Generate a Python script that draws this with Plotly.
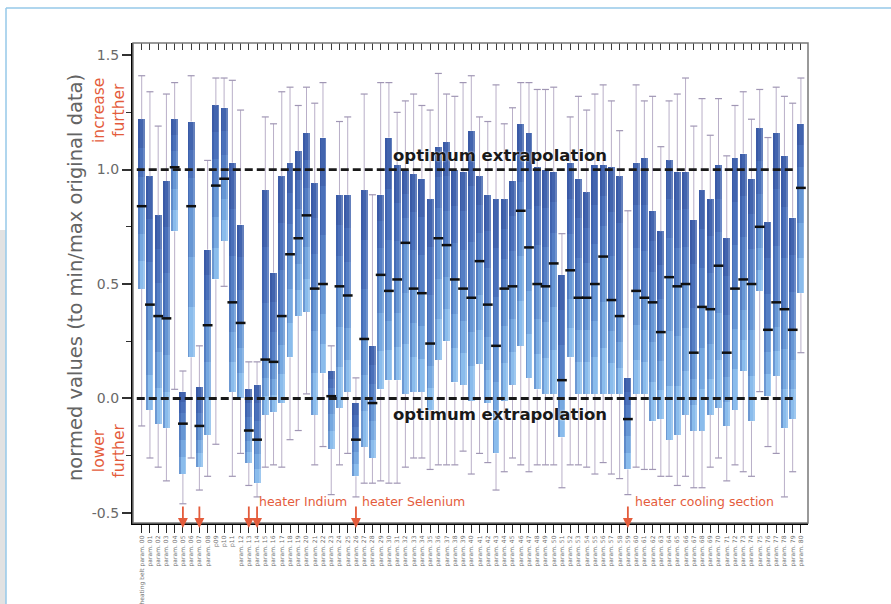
import plotly.graph_objects as go

# ---- data ----
upper = [1.41, 1.34, 1.19, 1.33, 1.38, 0.12, 1.41, 0.23, 1.04, 1.40,
         1.40, 1.39, 1.26, 0.16, 0.16, 1.23, 1.20, 1.34, 1.36, 1.28,
         1.36, 1.29, 1.38, 0.23, 1.21, 1.23, 0.09, 1.33, 0.89, 1.38,
         1.38, 1.25, 1.30, 1.33, 1.28, 1.26, 1.42, 1.33, 1.32, 1.38,
         1.41, 1.23, 1.21, 1.37, 1.20, 1.27, 1.38, 1.38, 1.35, 1.35,
         1.36, 0.72, 1.23, 1.32, 1.26, 1.33, 1.37, 1.30, 1.17, 0.82,
         1.37, 1.30, 1.32, 1.10, 1.30, 1.33, 1.40, 1.19, 1.31, 1.15,
         1.31, 1.06, 1.28, 1.34, 1.22, 1.35, 1.14, 1.36, 1.32, 1.29, 1.40]
q3 = [1.22, 0.97, 0.80, 0.95, 1.22, 0.03, 1.21, 0.05, 0.65, 1.28,
      1.27, 1.03, 0.76, 0.04, 0.06, 0.91, 0.55, 0.97, 1.03, 1.08,
      1.16, 0.94, 1.14, 0.12, 0.89, 0.89, -0.02, 0.91, 0.23, 0.89,
      1.14, 1.02, 1.00, 0.98, 0.96, 0.87, 1.10, 1.12, 1.00, 0.99,
      1.17, 0.97, 0.89, 0.87, 0.87, 0.95, 1.20, 1.16, 1.01, 1.00,
      0.99, 0.54, 1.03, 0.96, 0.90, 1.02, 1.02, 1.01, 0.97, 0.09,
      1.03, 1.05, 0.82, 0.73, 1.04, 0.99, 0.99, 0.78, 0.91, 0.87,
      1.02, 0.70, 1.05, 1.07, 0.96, 1.18, 0.77, 1.16, 1.06, 0.79, 1.20]
median = [0.84, 0.41, 0.36, 0.35, 1.01, -0.11, 0.84, -0.12, 0.32, 0.93,
          0.96, 0.42, 0.33, -0.14, -0.18, 0.17, 0.16, 0.36, 0.63, 0.70,
          0.80, 0.48, 0.50, 0.01, 0.49, 0.45, -0.18, 0.26, -0.02, 0.54,
          0.47, 0.52, 0.68, 0.48, 0.46, 0.24, 0.70, 0.67, 0.52, 0.48,
          0.44, 0.60, 0.41, 0.23, 0.48, 0.49, 0.82, 0.66, 0.50, 0.49,
          0.59, 0.08, 0.56, 0.44, 0.44, 0.50, 0.62, 0.43, 0.36, -0.09,
          0.47, 0.44, 0.42, 0.29, 0.53, 0.49, 0.50, 0.20, 0.40, 0.39,
          0.58, 0.20, 0.48, 0.52, 0.50, 0.75, 0.30, 0.42, 0.39, 0.30, 0.92]
q1 = [0.48, -0.05, -0.11, -0.13, 0.73, -0.33, 0.18, -0.30, -0.16, 0.52,
      0.69, 0.03, 0.00, -0.28, -0.37, -0.07, -0.06, -0.02, 0.18, 0.36,
      0.38, -0.07, 0.11, -0.22, -0.04, 0.03, -0.34, -0.21, -0.26, 0.04,
      0.08, 0.08, 0.02, 0.03, 0.03, -0.05, 0.17, 0.25, 0.07, 0.06,
      -0.01, 0.15, -0.02, -0.24, -0.01, 0.06, 0.23, 0.09, 0.04, 0.02,
      0.02, -0.17, 0.18, 0.02, 0.02, 0.02, 0.02, 0.02, 0.02, -0.31,
      0.02, 0.02, -0.10, -0.09, -0.18, -0.16, -0.07, -0.14, -0.14, -0.07,
      -0.04, -0.12, -0.05, 0.12, -0.10, 0.47, 0.01, 0.10, -0.13, -0.09, 0.46]
lower = [-0.12, -0.26, -0.30, -0.36, 0.04, -0.46, -0.26, -0.40, -0.34, -0.20,
         0.49, -0.34, -0.24, -0.38, -0.43, -0.30, -0.29, -0.30, -0.18, -0.14,
         0.02, -0.29, -0.21, -0.42, -0.29, -0.24, -0.43, -0.37, -0.37, -0.36,
         -0.37, -0.37, -0.30, -0.26, -0.26, -0.31, -0.29, -0.29, -0.29, -0.23,
         -0.33, -0.24, -0.28, -0.40, -0.32, -0.26, -0.29, -0.32, -0.29, -0.29,
         -0.29, -0.39, -0.29, -0.29, -0.30, -0.33, -0.28, -0.33, -0.35, -0.42,
         -0.30, -0.31, -0.31, -0.34, -0.34, -0.38, -0.34, -0.39, -0.39, -0.30,
         -0.26, -0.36, -0.29, -0.32, -0.34, 0.03, -0.21, -0.24, -0.43, -0.32, 0.20]

labels = ["heating belt param. 00"] + [f"param. {i:02d}" for i in range(1, 81)]
labels[9] = "p09"
labels[10] = "p10"
labels[11] = "p11"

arrow_boxes = [5, 7, 13, 14, 26, 59]
section_labels = ["heater Indium", "heater Selenium", "heater cooling section"]
section_pos = [19.6, 33.0, 68.3]
reference_levels = [1.0, 0.0]

n = len(median)
idx = list(range(n))

fig = go.Figure()

# box bodies: 3 tones above the median, 3 below (vertical gradient)
def frac(a, b, t):
    return [x + (y - x) * t for x, y in zip(a, b)]

levels = [q3, frac(q3, median, 1 / 3), frac(q3, median, 2 / 3), median,
          frac(median, q1, 1 / 3), frac(median, q1, 2 / 3), q1]
tones = ["rgb(66,100,174)", "rgb(74,112,186)", "rgb(84,126,196)",
         "rgb(102,150,212)", "rgb(118,168,224)", "rgb(138,188,236)"]
for k, col in enumerate(tones):
    hi, lo = levels[k], levels[k + 1]
    fig.add_trace(go.Bar(x=idx, base=lo, y=[h - l for h, l in zip(hi, lo)],
                         width=0.84, marker=dict(color=col, line=dict(width=0)),
                         hoverinfo="skip", showlegend=False))
# darker left edge of each box (horizontal shading)
fig.add_trace(go.Bar(x=idx, base=q1, y=[h - l for h, l in zip(q3, q1)],
                     width=0.22, offset=-0.42,
                     marker=dict(color="rgba(40,70,150,0.30)", line=dict(width=0)),
                     hoverinfo="skip", showlegend=False))
# lighter right edge
fig.add_trace(go.Bar(x=idx, base=q1, y=[h - l for h, l in zip(q3, q1)],
                     width=0.22, offset=0.20,
                     marker=dict(color="rgba(255,255,255,0.18)", line=dict(width=0)),
                     hoverinfo="skip", showlegend=False))

# whiskers
wx, wy = [], []
for i in idx:
    wx += [i, i, None, i, i, None]
    wy += [q3[i], upper[i], None, q1[i], lower[i], None]
wcol = "rgb(185,175,200)"
fig.add_trace(go.Scatter(x=wx, y=wy, mode="lines", line=dict(color=wcol, width=1),
                         hoverinfo="skip", showlegend=False))
fig.add_trace(go.Scatter(x=idx + idx, y=upper + lower, mode="markers",
                         marker=dict(symbol="line-ew", size=5,
                                     line=dict(color="rgb(160,150,180)", width=1.2)),
                         hoverinfo="skip", showlegend=False))
# medians
fig.add_trace(go.Scatter(x=idx, y=median, mode="markers",
                         marker=dict(symbol="line-ew", size=7,
                                     line=dict(color="rgb(15,15,15)", width=2.5)),
                         hoverinfo="skip", showlegend=False))

# invisible trace that carries the top tick axis
fig.add_trace(go.Scatter(x=[0], y=[-5], xaxis="x2", mode="markers",
                         marker=dict(size=1, opacity=0), showlegend=False, hoverinfo="skip"))

# dashed reference lines
for lvl in reference_levels:
    fig.add_shape(type="line", xref="x", yref="y", x0=-0.6, x1=79.4, y0=lvl, y1=lvl,
                  line=dict(color="rgb(25,25,25)", width=2.8, dash="8px,4px"), layer="above")

# frame (top/right grey)
fig.add_shape(type="rect", xref="paper", yref="paper", x0=0, x1=1, y0=0, y1=1,
              line=dict(color="rgb(120,120,120)", width=1.5), layer="above")

# outer page decorations
def px_x(p):
    return (p - 133) / 675.0

def px_y(p):
    return (523 - p) / 480.0

fig.add_shape(type="rect", xref="paper", yref="paper", x0=px_x(0), x1=px_x(6),
              y0=px_y(604), y1=px_y(230), fillcolor="rgb(226,226,226)", line=dict(width=0))
fig.add_shape(type="line", xref="paper", yref="paper", x0=px_x(6), x1=px_x(891),
              y0=px_y(8), y1=px_y(8), line=dict(color="rgb(150,200,232)", width=1.5))
fig.add_shape(type="line", xref="paper", yref="paper", x0=px_x(6), x1=px_x(6),
              y0=px_y(8), y1=px_y(604), line=dict(color="rgb(150,200,232)", width=1.5))

red = "rgb(228,92,60)"
font = "DejaVu Sans"
for txt, yv in [("optimum extrapolation", 1.063), ("optimum extrapolation", -0.07)]:
    fig.add_annotation(x=43.5, y=yv, xref="x", yref="y", text=txt, showarrow=False,
                       xanchor="center", yanchor="middle",
                       font=dict(family=font, size=16.5, color="rgb(25,25,25)", weight="bold",
                                 shadow="0px 0px 2px white"))
for txt, xv in zip(section_labels, section_pos):
    fig.add_annotation(x=xv, y=-0.449, xref="x", yref="y", text=txt, showarrow=False,
                       xanchor="center", yanchor="middle",
                       font=dict(family=font, size=12.5, color=red))
for b in arrow_boxes:
    fig.add_annotation(x=b, y=px_y(528), xref="x", yref="paper", text="", showarrow=True,
                       ax=0, ay=-23, arrowhead=2, arrowsize=1.1, arrowwidth=1.8,
                       arrowcolor=red)
fig.add_annotation(x=px_x(109), y=1.256, xref="paper", yref="y", text="increase<br>further",
                   textangle=-90, showarrow=False, xanchor="center", yanchor="middle",
                   font=dict(family=font, size=15.5, color=red))
fig.add_annotation(x=px_x(109), y=-0.228, xref="paper", yref="y", text="lower<br>further",
                   textangle=-90, showarrow=False, xanchor="center", yanchor="middle",
                   font=dict(family=font, size=15.5, color=red))
fig.add_annotation(x=px_x(75), y=px_y(278), xref="paper", yref="paper",
                   text="normed values (to min/max original data)",
                   textangle=-90, showarrow=False, xanchor="center", yanchor="middle",
                   font=dict(family=font, size=19.5, color="rgb(100,100,100)"))

xrange = [-1.056, 80.86]
fig.update_layout(
    width=891, height=604, autosize=False,
    margin=dict(l=133, r=83, t=43, b=81, pad=0, autoexpand=False),
    paper_bgcolor="white", plot_bgcolor="white",
    barmode="overlay", bargap=0, showlegend=False,
    xaxis=dict(range=xrange, tickvals=idx, ticktext=labels, tickangle=-90,
               tickfont=dict(family=font, size=6, color="rgb(110,110,110)"),
               ticks="outside", ticklen=8, tickwidth=1.3, tickcolor="rgb(40,40,40)",
               showline=True, linecolor="black", linewidth=2.2, showgrid=False,
               zeroline=False, fixedrange=True, automargin=False),
    xaxis2=dict(range=xrange, overlaying="x", side="top", anchor="y", tickvals=idx,
                showticklabels=False, ticks="inside", ticklen=7, tickwidth=1.4,
                tickcolor="rgb(60,60,60)", showgrid=False, zeroline=False, showline=False,
                automargin=False),
    yaxis=dict(range=[-0.544, 1.553], tickvals=[-0.5, 0, 0.5, 1.0, 1.5],
               ticktext=["-0.5", "0.0", "0.5", "1.0", "1.5"],
               tickfont=dict(family=font, size=14, color="rgb(105,105,105)"),
               ticks="outside", ticklen=9, tickwidth=1.5, tickcolor="rgb(50,50,50)",
               minor=dict(tickvals=[-0.25, 0.25, 0.75, 1.25], ticks="outside", ticklen=5,
                          tickwidth=1.2, tickcolor="rgb(50,50,50)"),
               showline=True, linecolor="black", linewidth=2.2, showgrid=False,
               zeroline=False, ticklabelstandoff=0, automargin=False),
)

fig.write_html("out.html")
